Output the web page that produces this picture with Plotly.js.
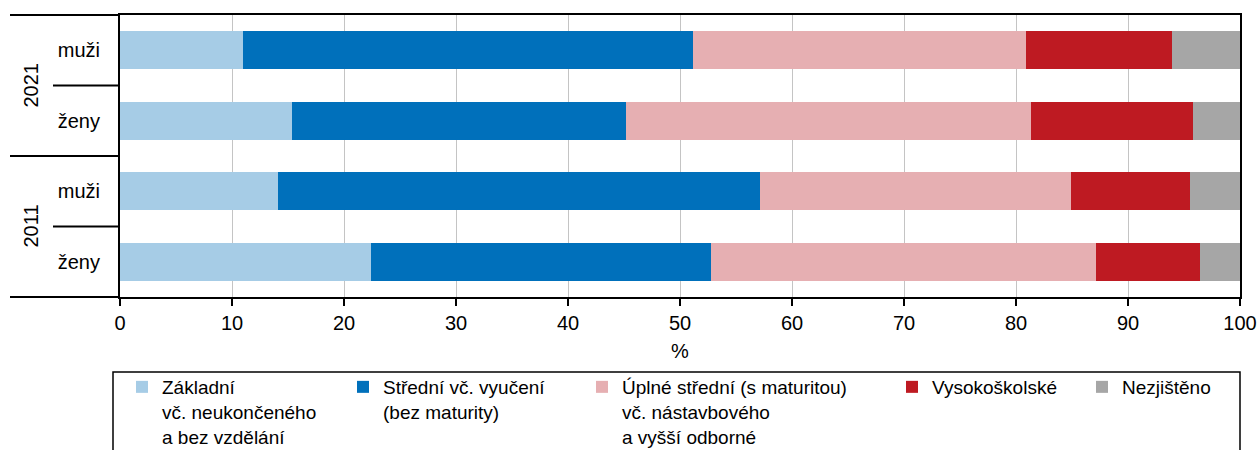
<!DOCTYPE html>
<html>
<head>
<meta charset="utf-8">
<script src="https://cdn.plot.ly/plotly-3.0.1.min.js"></script>
<style>html,body{margin:0;padding:0;background:#fff;}#chart{width:1258px;height:450px;}</style>
</head>
<body>
<div id="chart"></div>
<script>
const years = ["2021", "2021", "2011", "2011"];
const sexes = ["muži", "ženy", "muži", "ženy"];
const categories = years.map((y, i) => y + " " + sexes[i]);

const seriesNames = [
  "Základní<br>vč. neukončeného<br>a bez vzdělání",
  "Střední vč. vyučení<br>(bez maturity)",
  "Úplné střední (s maturitou)<br>vč. nástavbového<br>a vyšší odborné",
  "Vysokoškolské",
  "Nezjištěno"
];
const zakladni   = [11.0, 15.4, 14.1, 22.4];
const stredni    = [40.2, 29.8, 43.0, 30.4];
const uplne      = [29.7, 36.1, 27.8, 34.3];
const vysoko     = [13.0, 14.5, 10.6, 9.3];
const nezjisteno = [6.1, 4.2, 4.5, 3.6];
const xTicks = [0, 10, 20, 30, 40, 50, 60, 70, 80, 90, 100];

const colors = ["#a6cce6", "#0070bb", "#e6afb2", "#be1a22", "#a6a6a6"];
const seriesValues = [zakladni, stredni, uplne, vysoko, nezjisteno];

const FONT = "Liberation Sans, Arial, sans-serif";
const FS = 20;
const LFS = 19;

// helper for pixel -> paper conversion (plot area x 120..1240, y 15..297)
const px = p => (p - 120) / 1120;
const py = p => (297 - p) / 282;
const lineStyle = {color: "#000", width: 2};

const legendIds = ["legend", "legend2", "legend3", "legend4", "legend5"];
const legendItemStarts = [122, 343, 582, 892, 1082]; // pixel x where each legend entry begins

const traces = seriesValues.map((vals, i) => ({
  type: "bar",
  orientation: "h",
  name: seriesNames[i],
  x: vals,
  y: categories,
  legend: legendIds[i],
  marker: {color: colors[i], line: {width: 0}},
  hoverinfo: "x+name"
}));

const shapes = [
  {type: "line", xref: "paper", yref: "paper", x0: px(10), x1: 0, y0: 1, y1: 1, line: lineStyle},
  {type: "line", xref: "paper", yref: "paper", x0: px(10), x1: 0, y0: 0, y1: 0, line: lineStyle},
  {type: "line", xref: "paper", yref: "y", x0: px(10), x1: 0, y0: 1.5, y1: 1.5, line: lineStyle},
  {type: "line", xref: "paper", yref: "y", x0: px(53), x1: 0, y0: 0.5, y1: 0.5, line: lineStyle},
  {type: "line", xref: "paper", yref: "y", x0: px(53), x1: 0, y0: 2.5, y1: 2.5, line: lineStyle},
  {type: "rect", xref: "paper", yref: "paper", x0: px(113), x1: 1, y0: py(372), y1: py(470),
   line: {color: "#000", width: 1.5}, fillcolor: "rgba(0,0,0,0)"}
];

const annotations = [
  {text: "2021", xref: "paper", yref: "y", x: px(30), y: 0.5, xanchor: "center", yanchor: "middle",
   showarrow: false, textangle: -90, font: {family: FONT, size: FS, color: "#000"}},
  {text: "2011", xref: "paper", yref: "y", x: px(30), y: 2.5, xanchor: "center", yanchor: "middle",
   showarrow: false, textangle: -90, font: {family: FONT, size: FS, color: "#000"}}
];

const layout = {
  width: 1258,
  height: 450,
  margin: {l: 120, r: 18, t: 15, b: 153, pad: 0, autoexpand: false},
  paper_bgcolor: "#fff",
  plot_bgcolor: "#fff",
  barmode: "stack",
  bargap: 0.46,
  font: {family: FONT, size: FS, color: "#000"},
  showlegend: true,
  xaxis: {
    range: [0, 100],
    tickvals: xTicks,
    ticktext: xTicks.map(String),
    ticks: "outside",
    ticklen: 7,
    tickwidth: 1.5,
    tickcolor: "#000",
    showgrid: true,
    gridcolor: "#c4c4c4",
    gridwidth: 1,
    zeroline: false,
    showline: true,
    linecolor: "#000",
    linewidth: 2,
    mirror: true,
    tickfont: {family: FONT, size: FS, color: "#000"},
    title: {text: "%", font: {family: FONT, size: FS, color: "#000"}, standoff: 11},
    fixedrange: true
  },
  yaxis: {
    type: "category",
    categoryorder: "array",
    categoryarray: categories,
    range: [3.5, -0.5],
    tickvals: categories,
    ticktext: sexes,
    ticks: "",
    ticklabelstandoff: 14,
    showgrid: false,
    zeroline: false,
    showline: true,
    linecolor: "#000",
    linewidth: 2,
    mirror: true,
    tickfont: {family: FONT, size: FS, color: "#000"},
    fixedrange: true
  },
  shapes: shapes,
  annotations: annotations
};

legendIds.forEach((id, i) => {
  layout[id] = {
    orientation: "h",
    x: px(legendItemStarts[i]),
    xanchor: "left",
    y: py(368),
    yanchor: "top",
    valign: "top",
    font: {family: FONT, size: LFS, color: "#000"},
    bgcolor: "rgba(0,0,0,0)",
    borderwidth: 0
  };
});

Plotly.newPlot("chart", traces, layout, {displayModeBar: false, staticPlot: true});
</script>
</body>
</html>
